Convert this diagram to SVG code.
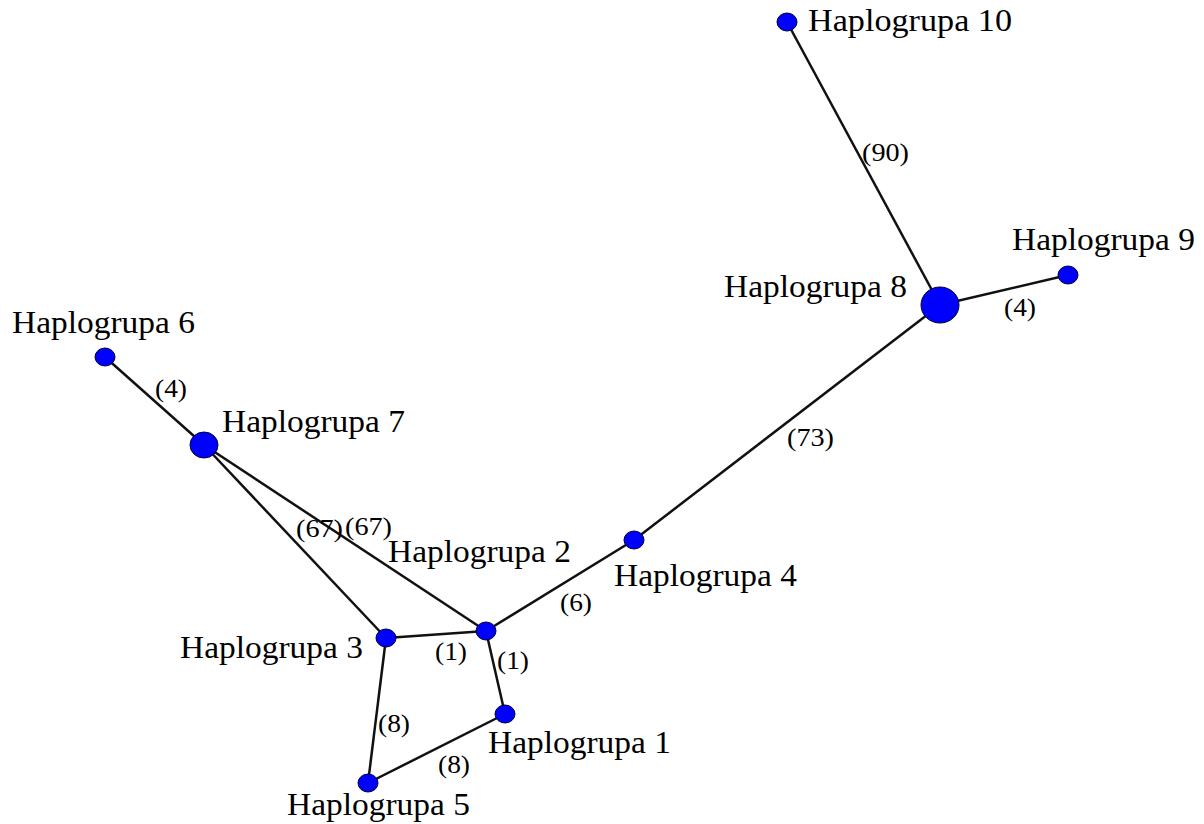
<svg xmlns="http://www.w3.org/2000/svg" width="1204" height="824" viewBox="0 0 1204 824">
<style>
.e{stroke:#111;stroke-width:2.5;fill:none}
.n{fill:#0000ff;stroke:#000033;stroke-width:1}
.t{font-family:"Liberation Serif","Times New Roman",serif;font-size:32px;fill:#000}
.w{font-family:"Liberation Serif","Times New Roman",serif;font-size:25px;fill:#000}
</style>
<rect width="1204" height="824" fill="#fff"/>
<g id="connectors">
<line class="e" x1="787" y1="22" x2="940" y2="305"/>
<line class="e" x1="940" y1="305" x2="1068" y2="275"/>
<line class="e" x1="940" y1="305" x2="634" y2="540"/>
<line class="e" x1="634" y1="540" x2="486" y2="631"/>
<line class="e" x1="105" y1="357" x2="204" y2="445"/>
<line class="e" x1="204" y1="445" x2="386" y2="638"/>
<line class="e" x1="204" y1="445" x2="486" y2="631"/>
<line class="e" x1="386" y1="638" x2="486" y2="631"/>
<line class="e" x1="486" y1="631" x2="505" y2="714"/>
<line class="e" x1="386" y1="638" x2="368" y2="783"/>
<line class="e" x1="368" y1="783" x2="505" y2="714"/>
<text class="w" x="862" y="161" textLength="47" lengthAdjust="spacingAndGlyphs">(90)</text>
<text class="w" x="1004" y="316" textLength="32" lengthAdjust="spacingAndGlyphs">(4)</text>
<text class="w" x="787" y="446" textLength="47" lengthAdjust="spacingAndGlyphs">(73)</text>
<text class="w" x="155" y="397" textLength="32" lengthAdjust="spacingAndGlyphs">(4)</text>
<text class="w" x="296" y="537" textLength="47" lengthAdjust="spacingAndGlyphs">(67)</text>
<text class="w" x="345" y="535" textLength="47" lengthAdjust="spacingAndGlyphs">(67)</text>
<text class="w" x="560" y="611" textLength="32" lengthAdjust="spacingAndGlyphs">(6)</text>
<text class="w" x="435" y="660" textLength="32" lengthAdjust="spacingAndGlyphs">(1)</text>
<text class="w" x="497" y="669" textLength="32" lengthAdjust="spacingAndGlyphs">(1)</text>
<text class="w" x="378" y="732" textLength="32" lengthAdjust="spacingAndGlyphs">(8)</text>
<text class="w" x="438" y="773" textLength="32" lengthAdjust="spacingAndGlyphs">(8)</text>
</g>
<g id="n10"><ellipse class="n" cx="787" cy="22" rx="10" ry="9"/><text class="t" x="808" y="31" textLength="204" lengthAdjust="spacingAndGlyphs">Haplogrupa 10</text></g>
<g id="n9"><ellipse class="n" cx="1068" cy="275" rx="10" ry="9"/><text class="t" x="1012" y="250" textLength="183" lengthAdjust="spacingAndGlyphs">Haplogrupa 9</text></g>
<g id="n8"><ellipse class="n" cx="940" cy="305" rx="19" ry="18"/><text class="t" x="724" y="297" textLength="183" lengthAdjust="spacingAndGlyphs">Haplogrupa 8</text></g>
<g id="n6"><ellipse class="n" cx="105" cy="357" rx="10" ry="9"/><text class="t" x="12" y="333" textLength="183" lengthAdjust="spacingAndGlyphs">Haplogrupa 6</text></g>
<g id="n7"><ellipse class="n" cx="204" cy="445" rx="14" ry="13"/><text class="t" x="222" y="432" textLength="183" lengthAdjust="spacingAndGlyphs">Haplogrupa 7</text></g>
<g id="n4"><ellipse class="n" cx="634" cy="540" rx="10" ry="9"/><text class="t" x="614" y="586" textLength="183" lengthAdjust="spacingAndGlyphs">Haplogrupa 4</text></g>
<g id="n2"><ellipse class="n" cx="486" cy="631" rx="10" ry="9"/><text class="t" x="388" y="562" textLength="183" lengthAdjust="spacingAndGlyphs">Haplogrupa 2</text></g>
<g id="n3"><ellipse class="n" cx="386" cy="638" rx="10" ry="9"/><text class="t" x="180" y="658" textLength="183" lengthAdjust="spacingAndGlyphs">Haplogrupa 3</text></g>
<g id="n1"><ellipse class="n" cx="505" cy="714" rx="10" ry="9"/><text class="t" x="488" y="753" textLength="183" lengthAdjust="spacingAndGlyphs">Haplogrupa 1</text></g>
<g id="n5"><ellipse class="n" cx="368" cy="783" rx="10" ry="9"/><text class="t" x="287" y="815" textLength="183" lengthAdjust="spacingAndGlyphs">Haplogrupa 5</text></g>
</svg>
